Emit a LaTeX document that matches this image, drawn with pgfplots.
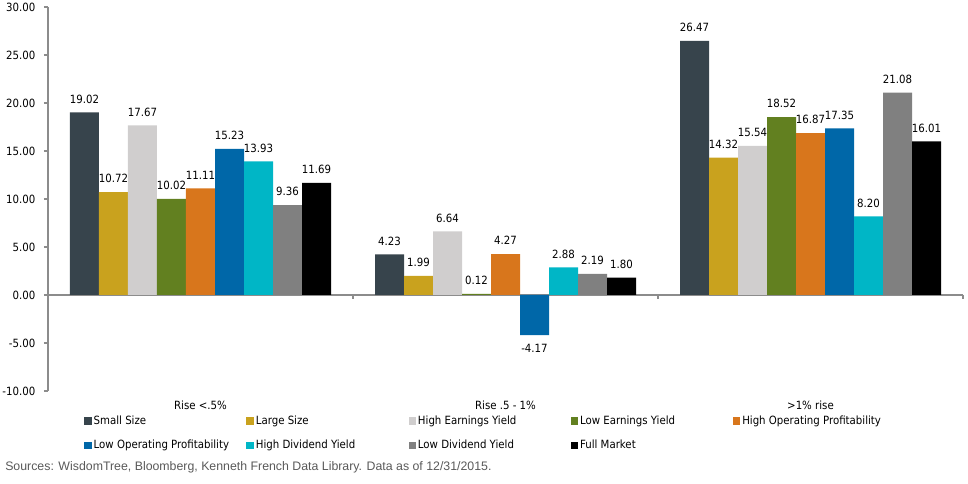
\documentclass[border=0pt]{standalone}
\usepackage{pgfplots}
\pgfplotsset{compat=1.18}
\usepackage{fontspec}
\setmainfont{DejaVu Sans Condensed}
\newfontfamily\srcfont{Liberation Sans}

\definecolor{cSmall}{HTML}{37444C}
\definecolor{cLarge}{HTML}{C9A21E}
\definecolor{cHiEY}{HTML}{D0CECE}
\definecolor{cLoEY}{HTML}{628020}
\definecolor{cHiOP}{HTML}{D8761C}
\definecolor{cLoOP}{HTML}{0067A8}
\definecolor{cHiDY}{HTML}{00B6C6}
\definecolor{cLoDY}{HTML}{808080}
\definecolor{cFull}{HTML}{000000}
\definecolor{axisgray}{HTML}{8C8C8C}
\definecolor{srcgray}{HTML}{595959}

% x = 0: Rise <.5%, 1: Rise .5 - 1%, 2: >1% rise
\pgfplotstableread{
x  small large hiey  loey  hiop  loop  hidy  lody  full
0  19.02 10.72 17.67 10.02 11.11 15.23 13.93 9.36  11.69
1  4.23  1.99  6.64  0.12  4.27  -4.17 2.88  2.19  1.80
2  26.47 14.32 15.54 18.52 16.87 17.35 8.20  21.08 16.01
}\returns

\newcommand{\lgd}[1]{\makebox[113pt][l]{#1}}

\begin{document}
\begin{tikzpicture}[font=\fontsize{8.5}{10}\selectfont]
\path[use as bounding box] (-36pt,-69.75pt) rectangle (690pt,293.25pt);
\begin{axis}[
  at={(0,0)}, anchor=south west,
  scale only axis, width=686.25pt, height=288pt,
  ybar=0pt, bar width=21.75pt,
  xmin=-0.5, xmax=2.5, ymin=-10, ymax=30,
  axis y line=left, axis x line=middle,
  hide obscured x ticks=false, hide obscured y ticks=false,
  axis line style={-, draw=axisgray, line width=0.8pt},
  tick style={draw=axisgray, line width=0.8pt},
  tick align=outside, major tick length=3pt,
  xtick={-0.5,0.5,1.5,2.5}, xticklabels={},
  ytick={-10,-5,...,30},
  yticklabel={\pgfmathprintnumber[fixed,fixed zerofill,precision=2,assume math mode=true]{\tick}},
  yticklabel style={xshift=-3pt},
  nodes near coords={\pgfmathprintnumber[fixed,fixed zerofill,precision=2,assume math mode=true]{\pgfplotspointmeta}},
  nodes near coords style={inner ysep=6.6pt, text=black},
  every axis plot/.append style={draw=none},
  legend columns=5,
  legend cell align=left,
  legend image code/.code={\path[#1, draw=none] (0pt,-2.8pt) rectangle (5.6pt,2.8pt);},
  legend style={at={(0,0)}, anchor=north west, xshift=27pt, yshift=-16.25pt,
    draw=none, fill=none, inner sep=0pt,
    row sep=6.5pt,
    /tikz/every even column/.append style={column sep=0pt},
    nodes={inner xsep=1.5pt}},
  clip=false,
]
\addplot[fill=cSmall] table[x=x,y=small] {\returns};
\addplot[fill=cLarge] table[x=x,y=large] {\returns};
\addplot[fill=cHiEY]  table[x=x,y=hiey]  {\returns};
\addplot[fill=cLoEY]  table[x=x,y=loey]  {\returns};
\addplot[fill=cHiOP]  table[x=x,y=hiop]  {\returns};
\addplot[fill=cLoOP]  table[x=x,y=loop]  {\returns};
\addplot[fill=cHiDY]  table[x=x,y=hidy]  {\returns};
\addplot[fill=cLoDY]  table[x=x,y=lody]  {\returns};
\addplot[fill=cFull]  table[x=x,y=full]  {\returns};
\legend{\lgd{Small Size},\lgd{Large Size},\lgd{High Earnings Yield},\lgd{Low Earnings Yield},\lgd{High Operating Profitability},
  \lgd{Low Operating Profitability},\lgd{High Dividend Yield},\lgd{Low Dividend Yield},\lgd{Full Market}}
% group names under the plot area
\node[yshift=-10.5pt] at (axis cs:0,-10) {Rise <.5\%};
\node[yshift=-10.5pt] at (axis cs:1,-10) {Rise .5 - 1\%};
\node[yshift=-10.5pt] at (axis cs:2,-10) {>1\% rise};
\end{axis}
\node[anchor=west, inner sep=0pt, text=srcgray, font=\srcfont\fontsize{9.25}{10}\selectfont] at (-32.25pt,-57pt)
  {Sources: WisdomTree, Bloomberg, Kenneth French Data Library. Data as of 12/31/2015.};
\end{tikzpicture}
\end{document}
